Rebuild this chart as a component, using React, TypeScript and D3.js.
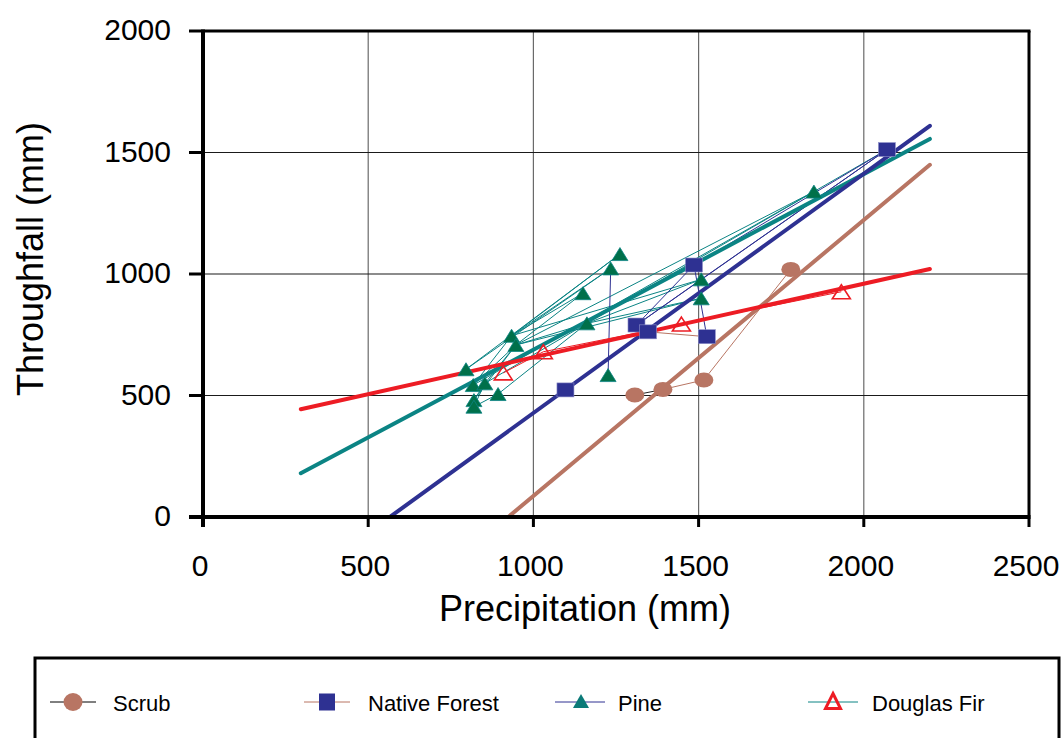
import React from "react";
import * as d3 from "d3";

// Axis ticks
const xTicks = [0, 500, 1000, 1500, 2000, 2500];
const yTicks = [0, 500, 1000, 1500, 2000];

// Observations: [precipitation, throughfall] (mm)
const scrub: [number, number][] = [
  [1307, 502],
  [1392, 525],
  [1516, 564],
  [1779, 1019],
];
const nativeForest: [number, number][] = [
  [1097, 523],
  [1312, 790],
  [1347, 762],
  [1486, 1037],
  [1525, 742],
  [2070, 1512],
];
const pine: [number, number][] = [
  [796, 608],
  [818, 543],
  [853, 550],
  [820, 481],
  [820, 454],
  [893, 506],
  [934, 746],
  [947, 708],
  [1150, 921],
  [1162, 797],
  [1234, 1023],
  [1262, 1082],
  [1226, 584],
  [1508, 978],
  [1508, 900],
  [1849, 1339],
];
const douglasFir: [number, number][] = [
  [909, 593],
  [1030, 680],
  [1448, 794],
  [1932, 927],
];

// Linear fits per cover type: throughfall = slope * P + intercept
const fitNames = ["Pine", "Native Forest", "Scrub", "Douglas Fir"];
const fitSlope = [0.7227, 0.985, 1.1356, 0.303];
const fitIntercept = [-34, -557, -1049, 354];
const fitFrom = [296, 566, 924, 296];
const fitTo = [2200, 2200, 2200, 2200];
const fitColor = ["#0B8484", "#2E3192", "#B87563", "#ED1C24"];

// Joining lines between observations (keys: s=scrub, n=native, p=pine, f=fir)
const tealJoins: string[][] = [
  ["p0", "p11"],
  ["p0", "p10"],
  ["p1", "p6", "p11"],
  ["p2", "p7", "p8"],
  ["p6", "p8"],
  ["p6", "p10"],
  ["p3", "p7", "p9", "p13"],
  ["p4", "p2", "p9", "p14"],
  ["p5", "p9"],
  ["p7", "p14"],
  ["p6", "p13"],
  ["p4", "p5"],
  ["p3", "p2"],
  ["p1", "p7"],
  ["p9", "p15"],
  ["p7", "p15"],
  ["p1", "p15"],
  ["p15", "n5"],
];
const navyJoins: string[][] = [
  ["p10", "p12"],
  ["n1", "n3", "n4"],
  ["n1", "p13"],
  ["n1", "n5"],
  ["n3", "n5"],
  ["p13", "n5"],
];
const brownJoins: string[][] = [
  ["n2", "n4"],
  ["s1", "s2", "s3"],
];
const blackJoins: string[][] = [["s0", "s1"]];
const redJoins: string[][] = [["f0", "f1", "f2", "f3"]];

const legendNames = ["Scrub", "Native Forest", "Pine", "Douglas Fir"];

const FONT = "'Liberation Sans', Arial, Helvetica, sans-serif";

const x = d3.scaleLinear().domain([0, 2500]).range([203, 1029]);
const y = d3.scaleLinear().domain([0, 2000]).range([517, 31]);

const lookup: Record<string, [number, number]> = {};
scrub.forEach((d, i) => (lookup["s" + i] = d));
nativeForest.forEach((d, i) => (lookup["n" + i] = d));
pine.forEach((d, i) => (lookup["p" + i] = d));
douglasFir.forEach((d, i) => (lookup["f" + i] = d));

const lineGen = d3
  .line<[number, number]>()
  .x((d) => x(d[0]))
  .y((d) => y(d[1]));

function triPath(cx: number, cy: number, w: number, h: number) {
  return `M${cx},${cy - h / 2}L${cx + w / 2},${cy + h / 2}L${cx - w / 2},${cy + h / 2}Z`;
}

function Joins({ sets, color }: { sets: string[][]; color: string }) {
  return (
    <g>
      {sets.map((keys, i) => (
        <path
          key={i}
          d={lineGen(keys.map((k) => lookup[k])) || ""}
          fill="none"
          stroke={color}
          strokeWidth={1}
        />
      ))}
    </g>
  );
}

export default function App() {
  const fits = fitNames.map((name, i) => {
    let x0 = fitFrom[i];
    const yAt = (v: number) => fitSlope[i] * v + fitIntercept[i];
    if (yAt(x0) < 0) x0 = -fitIntercept[i] / fitSlope[i];
    const pts: [number, number][] = [
      [x0, yAt(x0)],
      [fitTo[i], yAt(fitTo[i])],
    ];
    return { name, pts, color: fitColor[i] };
  });

  const legendX = [73, 327, 581, 833];
  const legendY = 702;

  return (
    <svg
      width={1063}
      height={738}
      style={{ position: "absolute", left: 0, top: 0, background: "#fff" }}
      fontFamily={FONT}
    >
      <rect x={0} y={0} width={1063} height={738} fill="#fff" />

      {/* grid */}
      {xTicks.slice(1, -1).map((t) => (
        <line key={"gx" + t} x1={x(t)} x2={x(t)} y1={y(2000)} y2={y(0)} stroke="#6a6a6a" strokeWidth={1.2} />
      ))}
      {yTicks.slice(1, -1).map((t) => (
        <line key={"gy" + t} x1={x(0)} x2={x(2500)} y1={y(t)} y2={y(t)} stroke="#1a1a1a" strokeWidth={1.2} />
      ))}

      {/* joining lines */}
      <Joins sets={tealJoins} color="#0B8484" />
      <Joins sets={navyJoins} color="#2E3192" />
      <Joins sets={brownJoins} color="#B87563" />
      <Joins sets={blackJoins} color="#222" />
      <Joins sets={redJoins} color="#ED1C24" />

      {/* fitted lines */}
      {fits.map((f) => (
        <path key={f.name} d={lineGen(f.pts) || ""} stroke={f.color} strokeWidth={4} fill="none" strokeLinecap="round" />
      ))}

      {/* markers */}
      {scrub.map((d, i) => (
        <ellipse key={"s" + i} cx={x(d[0])} cy={y(d[1])} rx={9.5} ry={7.5} fill="#B87563" />
      ))}
      {nativeForest.map((d, i) => (
        <rect key={"n" + i} x={x(d[0]) - 8.5} y={y(d[1]) - 7} width={17} height={14} fill="#2E3192" stroke="#8f90c8" strokeWidth={0.6} />
      ))}
      {pine.map((d, i) => (
        <path key={"p" + i} d={triPath(x(d[0]), y(d[1]), 16, 13)} fill="#00704A" stroke="#0B8484" strokeWidth={0.8} />
      ))}
      {douglasFir.map((d, i) => (
        <path key={"f" + i} d={triPath(x(d[0]), y(d[1]), 18, 14)} fill="none" stroke="#ED1C24" strokeWidth={1.6} />
      ))}

      {/* frame and axes */}
      <line x1={x(0)} x2={x(2500) + 1.5} y1={y(2000)} y2={y(2000)} stroke="#000" strokeWidth={3} />
      <line x1={x(2500)} x2={x(2500)} y1={y(2000)} y2={y(0)} stroke="#000" strokeWidth={3} />
      <line x1={x(0)} x2={x(0)} y1={y(2000) - 1.5} y2={y(0) + 10} stroke="#000" strokeWidth={4} />
      <line x1={189} x2={x(2500) + 1.5} y1={y(0)} y2={y(0)} stroke="#000" strokeWidth={4} />
      {yTicks.map((t) => (
        <g key={"yt" + t}>
          <line x1={189} x2={x(0)} y1={y(t)} y2={y(t)} stroke="#000" strokeWidth={3} />
          <text x={171} y={y(t) + 9} textAnchor="end" fontSize={30} fill="#000">
            {t}
          </text>
        </g>
      ))}
      {xTicks.map((t) => (
        <g key={"xt" + t}>
          <line x1={x(t)} x2={x(t)} y1={y(0)} y2={y(0) + 10} stroke="#000" strokeWidth={3} />
          <text x={x(t) - 3} y={576} textAnchor="middle" fontSize={30} fill="#000">
            {t}
          </text>
        </g>
      ))}

      <text x={585} y={621} textAnchor="middle" fontSize={36} fill="#000">
        Precipitation (mm)
      </text>
      <text transform="translate(43,259) rotate(-90)" textAnchor="middle" fontSize={36} fill="#000">
        Throughfall (mm)
      </text>

      {/* legend */}
      <rect x={35} y={658} width={1024} height={120} fill="none" stroke="#000" strokeWidth={3} />
      <g>
        <line x1={legendX[0] - 23} x2={legendX[0] + 23} y1={legendY} y2={legendY} stroke="#000" strokeWidth={1} />
        <ellipse cx={legendX[0]} cy={legendY} rx={9.5} ry={9} fill="#B87563" />
        <line x1={legendX[1] - 23} x2={legendX[1] + 23} y1={legendY} y2={legendY} stroke="#B87563" strokeWidth={1} />
        <rect x={legendX[1] - 8} y={legendY - 8.5} width={16} height={17} fill="#2E3192" />
        <line x1={legendX[2] - 26} x2={legendX[2] + 24} y1={legendY} y2={legendY} stroke="#2E3192" strokeWidth={1} />
        <path d={triPath(legendX[2], legendY - 1, 16, 14)} fill="#0B7A78" />
        <line x1={legendX[3] - 25} x2={legendX[3] + 25} y1={legendY} y2={legendY} stroke="#0B8484" strokeWidth={1} />
        <path d={triPath(legendX[3], legendY - 1, 15, 15)} fill="none" stroke="#ED1C24" strokeWidth={3} />
        {legendNames.map((n, i) => (
          <text key={n} x={legendX[i] + [40, 41, 37, 39][i]} y={711} fontSize={22} fill="#000">
            {n}
          </text>
        ))}
      </g>
    </svg>
  );
}
